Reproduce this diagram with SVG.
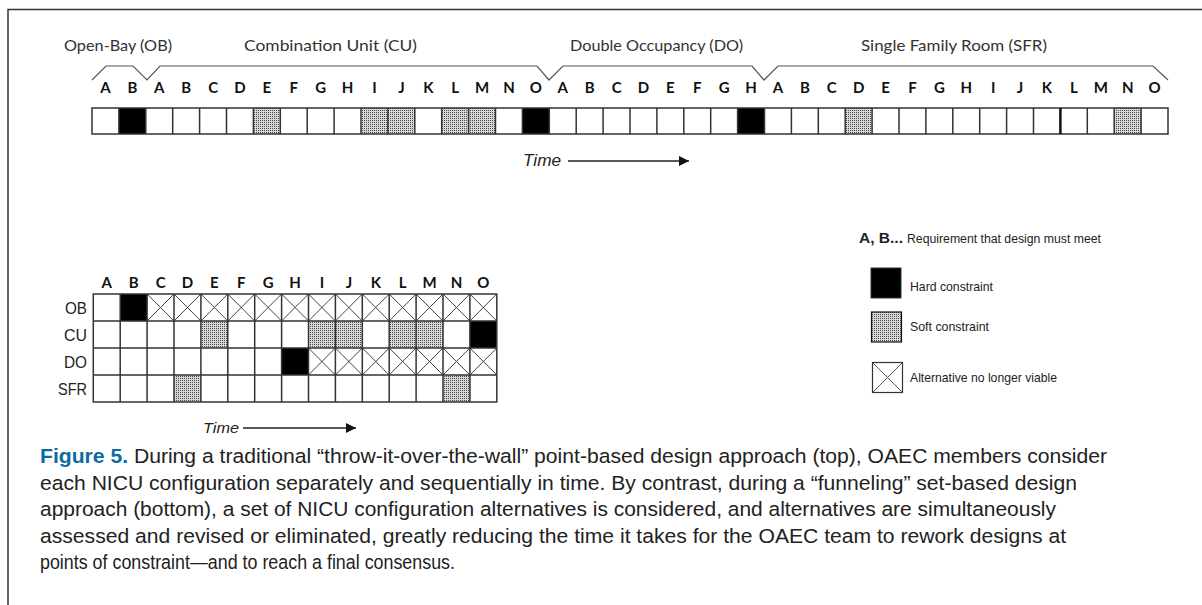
<svg xmlns="http://www.w3.org/2000/svg" width="1202" height="605" viewBox="0 0 1202 605">
<style>
.hdr{font-family:Lato,"Open Sans",sans-serif;font-size:15px;fill:#333}
.let{font-family:Lato,"Open Sans",sans-serif;font-size:15px;font-weight:bold;fill:#111;text-anchor:middle}
.lbl{font-family:"Liberation Sans",Arial,sans-serif;fill:#222}
.cell{fill:none;stroke:#333;stroke-width:1.5}
.grid{stroke:#333;stroke-width:1.5;fill:none}
.x{stroke:#444;stroke-width:1;fill:none}
.cap{font-family:"Liberation Sans",Arial,sans-serif;font-size:20.5px;fill:#222}
</style>
<defs>
<pattern id="dots" width="2" height="2" patternUnits="userSpaceOnUse"><rect width="2" height="2" fill="#d8d8d8"/><rect width="1" height="1" fill="#4a4a4a"/></pattern>
<marker id="arr" viewBox="0 0 10 10" refX="10" refY="5" markerWidth="10" markerHeight="10" markerUnits="userSpaceOnUse" orient="auto"><path d="M0,0 L10,5 L0,10 Z" fill="#111"/></marker>
</defs>
<rect width="1202" height="605" fill="#fff"/>
<path d="M8,605 V9.5 H1202" fill="none" stroke="#333" stroke-width="1.5"/>

<g id="phase-brackets">
<path d="M92,80 L106,66 L133,66 L147,80 L160,66 L537,66 L549,80 L563,66 L752,66 L764,80 L778,66 L1153,66 L1168,80" fill="none" stroke="#555" stroke-width="1.2"/>
<text class="hdr" x="64" y="51" textLength="108" lengthAdjust="spacingAndGlyphs">Open-Bay (OB)</text>
<text class="hdr" x="244" y="51" textLength="173" lengthAdjust="spacingAndGlyphs">Combination Unit (CU)</text>
<text class="hdr" x="570" y="51" textLength="173" lengthAdjust="spacingAndGlyphs">Double Occupancy (DO)</text>
<text class="hdr" x="861" y="51" textLength="186" lengthAdjust="spacingAndGlyphs">Single Family Room (SFR)</text>
</g>

<g id="point-based-row">
<g class="let">
<text x="105.5" y="93">A</text><text x="132.4" y="93">B</text>
<text x="159.3" y="93">A</text><text x="186.2" y="93">B</text><text x="213.1" y="93">C</text><text x="240" y="93">D</text><text x="266.9" y="93">E</text><text x="293.8" y="93">F</text><text x="320.7" y="93">G</text><text x="347.6" y="93">H</text><text x="374.5" y="93">I</text><text x="401.4" y="93">J</text><text x="428.3" y="93">K</text><text x="455.2" y="93">L</text><text x="482.1" y="93">M</text><text x="509" y="93">N</text><text x="535.9" y="93">O</text>
<text x="562.8" y="93">A</text><text x="589.7" y="93">B</text><text x="616.6" y="93">C</text><text x="643.5" y="93">D</text><text x="670.4" y="93">E</text><text x="697.3" y="93">F</text><text x="724.2" y="93">G</text><text x="751.1" y="93">H</text>
<text x="778" y="93">A</text><text x="804.9" y="93">B</text><text x="831.8" y="93">C</text><text x="858.7" y="93">D</text><text x="885.6" y="93">E</text><text x="912.5" y="93">F</text><text x="939.4" y="93">G</text><text x="966.3" y="93">H</text><text x="993.2" y="93">I</text><text x="1020.1" y="93">J</text><text x="1047" y="93">K</text><text x="1073.9" y="93">L</text><text x="1100.8" y="93">M</text><text x="1127.7" y="93">N</text><text x="1154.6" y="93">O</text>
</g>
<rect x="92" y="108" width="1076" height="26" fill="#fff"/>
<g fill="#000">
<rect x="118.9" y="108" width="26.9" height="26"/>
<rect x="522.4" y="108" width="26.9" height="26"/>
<rect x="737.6" y="108" width="26.9" height="26"/>
</g>
<g fill="url(#dots)">
<rect x="253.4" y="108" width="26.9" height="26"/>
<rect x="361" y="108" width="26.9" height="26"/>
<rect x="387.9" y="108" width="26.9" height="26"/>
<rect x="441.7" y="108" width="26.9" height="26"/>
<rect x="468.6" y="108" width="26.9" height="26"/>
<rect x="845.2" y="108" width="26.9" height="26"/>
<rect x="1114.2" y="108" width="26.9" height="26"/>
</g>
<rect class="cell" x="92" y="108" width="1076" height="26"/>
<path class="grid" d="M118.9,108V134M145.8,108V134M172.7,108V134M199.6,108V134M226.5,108V134M253.4,108V134M280.3,108V134M307.2,108V134M334.1,108V134M361,108V134M387.9,108V134M414.8,108V134M441.7,108V134M468.6,108V134M495.5,108V134M522.4,108V134M549.3,108V134M576.2,108V134M603.1,108V134M630,108V134M656.9,108V134M683.8,108V134M710.7,108V134M737.6,108V134M764.5,108V134M791.4,108V134M818.3,108V134M845.2,108V134M872.1,108V134M899,108V134M925.9,108V134M952.8,108V134M979.7,108V134M1006.6,108V134M1033.5,108V134M1087.3,108V134M1114.2,108V134M1141.1,108V134"/>
<path d="M1060.4,108V134" stroke="#111" stroke-width="2.5"/>
</g>

<g id="time-top">
<text class="lbl" x="523" y="166" font-size="17" font-style="italic" textLength="38" lengthAdjust="spacingAndGlyphs">Time</text>
</g>

<g id="set-based-grid">
<g class="let">
<text x="106.8" y="288">A</text><text x="133.7" y="288">B</text><text x="160.6" y="288">C</text><text x="187.5" y="288">D</text><text x="214.4" y="288">E</text><text x="241.3" y="288">F</text><text x="268.2" y="288">G</text><text x="295.1" y="288">H</text><text x="322" y="288">I</text><text x="348.9" y="288">J</text><text x="375.8" y="288">K</text><text x="402.7" y="288">L</text><text x="429.6" y="288">M</text><text x="456.5" y="288">N</text><text x="483.4" y="288">O</text>
</g>
<g class="lbl" font-size="17" text-anchor="end">
<text x="87" y="314" textLength="22" lengthAdjust="spacingAndGlyphs">OB</text>
<text x="87" y="341" textLength="23" lengthAdjust="spacingAndGlyphs">CU</text>
<text x="87" y="368" textLength="23" lengthAdjust="spacingAndGlyphs">DO</text>
<text x="87" y="395" textLength="29" lengthAdjust="spacingAndGlyphs">SFR</text>
</g>
<rect x="93.3" y="294" width="403.5" height="108" fill="#fff"/>
<g fill="#000">
<rect x="120.2" y="294" width="26.9" height="27"/>
<rect x="469.9" y="321" width="26.9" height="27"/>
<rect x="281.6" y="348" width="26.9" height="27"/>
</g>
<g fill="url(#dots)">
<rect x="200.9" y="321" width="26.9" height="27"/>
<rect x="308.5" y="321" width="26.9" height="27"/>
<rect x="335.4" y="321" width="26.9" height="27"/>
<rect x="389.2" y="321" width="26.9" height="27"/>
<rect x="416.1" y="321" width="26.9" height="27"/>
<rect x="174" y="375" width="26.9" height="27"/>
<rect x="443" y="375" width="26.9" height="27"/>
</g>
<path class="x" d="M147.1,294L174,321M174,294L147.1,321M174,294L200.9,321M200.9,294L174,321M200.9,294L227.8,321M227.8,294L200.9,321M227.8,294L254.7,321M254.7,294L227.8,321M254.7,294L281.6,321M281.6,294L254.7,321M281.6,294L308.5,321M308.5,294L281.6,321M308.5,294L335.4,321M335.4,294L308.5,321M335.4,294L362.3,321M362.3,294L335.4,321M362.3,294L389.2,321M389.2,294L362.3,321M389.2,294L416.1,321M416.1,294L389.2,321M416.1,294L443,321M443,294L416.1,321M443,294L469.9,321M469.9,294L443,321M469.9,294L496.8,321M496.8,294L469.9,321"/>
<path class="x" d="M308.5,348L335.4,375M335.4,348L308.5,375M335.4,348L362.3,375M362.3,348L335.4,375M362.3,348L389.2,375M389.2,348L362.3,375M389.2,348L416.1,375M416.1,348L389.2,375M416.1,348L443,375M443,348L416.1,375M443,348L469.9,375M469.9,348L443,375M469.9,348L496.8,375M496.8,348L469.9,375"/>
<rect class="cell" x="93.3" y="294" width="403.5" height="108"/>
<path class="grid" d="M93.3,321H496.8M93.3,348H496.8M93.3,375H496.8M120.2,294V402M147.1,294V402M174,294V402M200.9,294V402M227.8,294V402M254.7,294V402M281.6,294V402M308.5,294V402M335.4,294V402M362.3,294V402M389.2,294V402M416.1,294V402M443,294V402M469.9,294V402"/>
</g>

<g id="time-bottom">
<text class="lbl" x="203" y="433" font-size="15" font-style="italic" textLength="36" lengthAdjust="spacingAndGlyphs">Time</text>
</g>

<g id="legend">
<text class="lbl" x="859" y="243" font-size="14" font-weight="bold" textLength="44" lengthAdjust="spacingAndGlyphs">A, B...</text>
<text class="lbl" x="907" y="243" font-size="12.5" textLength="194" lengthAdjust="spacingAndGlyphs">Requirement that design must meet</text>
<rect x="871" y="268" width="30" height="30" fill="#000" stroke="#333" stroke-width="1"/>
<text class="lbl" x="910" y="291" font-size="13" textLength="83" lengthAdjust="spacingAndGlyphs">Hard constraint</text>
<rect x="871.5" y="312" width="30" height="30" fill="url(#dots)" stroke="#111" stroke-width="1.2"/>
<text class="lbl" x="910" y="331" font-size="13" textLength="79" lengthAdjust="spacingAndGlyphs">Soft constraint</text>
<rect x="872.5" y="362.5" width="30" height="30" fill="#fff" stroke="#333" stroke-width="1.2"/>
<path d="M872.5,362.5L902.5,392.5M902.5,362.5L872.5,392.5" stroke="#444" stroke-width="0.9"/>
<text class="lbl" x="910" y="382" font-size="13" textLength="147" lengthAdjust="spacingAndGlyphs">Alternative no longer viable</text>
</g>

<g id="connectors">
<line x1="568" y1="161" x2="689" y2="161" stroke="#222" stroke-width="1.3" marker-end="url(#arr)"/>
<line x1="243" y1="428" x2="356" y2="428" stroke="#222" stroke-width="1.3" marker-end="url(#arr)"/>
</g>

<g id="caption">
<text class="cap" x="40" y="463" textLength="1067" lengthAdjust="spacingAndGlyphs"><tspan font-weight="bold" fill="#0e6aa3">Figure 5.</tspan> During a traditional “throw-it-over-the-wall” point-based design approach (top), OAEC members consider</text>
<text class="cap" x="40" y="489.5" textLength="1037" lengthAdjust="spacingAndGlyphs">each NICU configuration separately and sequentially in time. By contrast, during a “funneling” set-based design</text>
<text class="cap" x="40" y="516" textLength="1016" lengthAdjust="spacingAndGlyphs">approach (bottom), a set of NICU configuration alternatives is considered, and alternatives are simultaneously</text>
<text class="cap" x="40" y="542.5" textLength="1026" lengthAdjust="spacingAndGlyphs">assessed and revised or eliminated, greatly reducing the time it takes for the OAEC team to rework designs at</text>
<text class="cap" x="40" y="569" textLength="415" lengthAdjust="spacingAndGlyphs">points of constraint—and to reach a final consensus.</text>
</g>
</svg>
